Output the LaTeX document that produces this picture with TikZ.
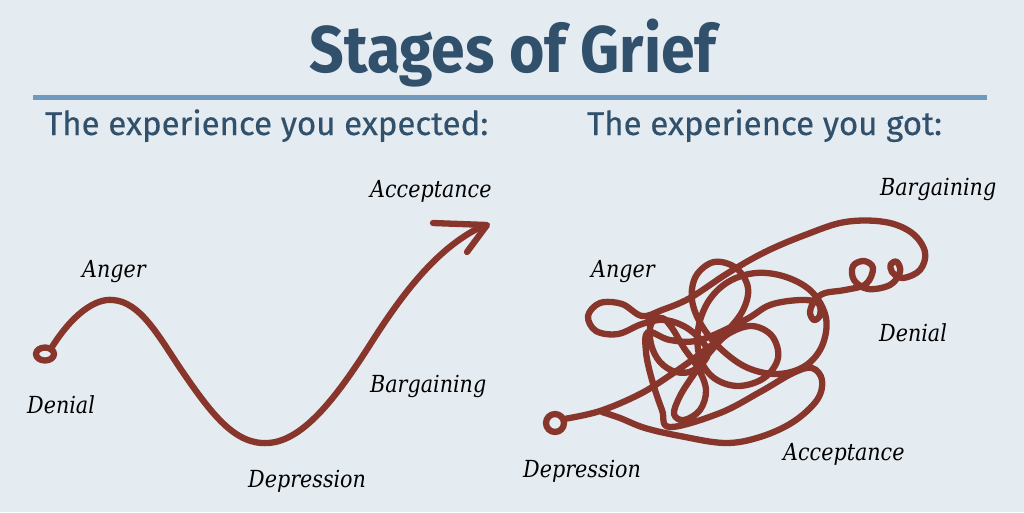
\documentclass[tikz,border=0pt]{standalone}
\usepackage{fontspec}
\newfontfamily\titlefont{Fira Sans}[FakeStretch=0.92]
\newfontfamily\subfont{Fira Sans}[FakeBold=0.4]
\newfontfamily\labfont{DejaVu Serif}[FakeStretch=0.88]
\definecolor{bg}{HTML}{E4EBF1}
\definecolor{titleblue}{HTML}{30506C}
\definecolor{rulecol}{HTML}{7099BE}
\definecolor{griefred}{HTML}{88352B}
\tikzset{
  lab/.style={font=\labfont\itshape\fontsize{23.5}{26}\selectfont, anchor=base west, inner sep=0pt, text=black},
  sub/.style={font=\subfont\fontsize{33}{36}\selectfont, anchor=base west, inner sep=0pt, text=titleblue},
  stroke/.style={draw=griefred, line width=6.3pt, line cap=round, line join=round},
}
\begin{document}
\begin{tikzpicture}[x=1pt,y=-1pt]
\fill[bg] (0,0) rectangle (1024,512);
\useasboundingbox (0,0) rectangle (1024,512);
% title and rule
\node[font=\titlefont\bfseries\fontsize{66}{72}\selectfont, text=titleblue, anchor=base, inner sep=0pt] (title) at (513,72) {Stages of Grief};
\draw[rulecol, line width=5pt] (33,97) -- (987,97);
\node[sub] (expected) at (45,135) {The experience you expected:};
\node[sub] (got) at (587,135) {The experience you got:};
% left: expected
\draw[stroke] (45,354) ellipse [x radius=9, y radius=6.5];
\draw[stroke] (52,347) .. controls (72,315) and (95,298) .. (113,300)
  .. controls (140,302) and (158,335) .. (180,368)
  .. controls (212,415) and (235,445) .. (268,443)
  .. controls (305,441) and (340,392) .. (373,340)
  .. controls (405,290) and (440,245) .. (485,225);
\draw[stroke] (433,223) -- (487,225) -- (467,252);
\node[lab] (lAnger) at (82,277) {Anger};
\node[lab] (lDenial) at (27,413) {Denial};
\node[lab] (lDepression) at (248,487) {Depression};
\node[lab] (lBargaining) at (370,392) {Bargaining};
\node[lab] (lAcceptance) at (370,197) {Acceptance};
% right: got
\draw[stroke] (555,423) ellipse [x radius=9, y radius=9];
\draw[stroke] plot[smooth, tension=0.6] coordinates {
(564,419) (600,411) (640,394) (672,374) (700,354) (722,336) (742,312) (748,288) (736,268) (714,262) (696,276) (692,300) (702,326) (722,350) (748,368) (778,374) (805,366) (822,346) (826,318) (812,292) (786,277) (756,273) (728,282) (708,302) (698,330) (700,358) (714,378) (738,386) (764,378) (778,358) (772,336) (752,326) (728,334) (710,352) (694,374) (680,396) (674,414) (684,420) (700,410) (706,390) (698,368) (684,348) (672,328) (662,318) (651,324) (651,344) (660,362) (676,372) (694,370) (708,352) (690,330) (665,320) (642,324) (618,334) (596,331) (588,316) (600,303) (622,304) (642,316) (662,310) (690,298) (728,273) (765,252) (805,235) (845,222) (885,222) (912,233) (925,252) (920,270) (903,278) (892,272) (891,264) (897,262) (900,272) (890,285) (868,289) (854,280) (853,266) (864,261) (873,268) (866,284) (845,290) (825,293) (815,300) (810,312) (814,320) (820,315) (818,303) (800,300) (770,305) (745,320) (700,340) (670,340) (648,332) (646,352) (652,380) (662,410) (670,427) (720,413) (760,392) (793,373) (812,368) (822,380) (817,400) (793,422) (760,437) (725,443) (680,436) (645,428) (620,418) (602,412)};
\node[lab] (rBargaining) at (880,195) {Bargaining};
\node[lab] (rAnger) at (591,277) {Anger};
\node[lab] (rDenial) at (879,341) {Denial};
\node[lab] (rAcceptance) at (783,460) {Acceptance};
\node[lab] (rDepression) at (523,477) {Depression};
\end{tikzpicture}
\end{document}
